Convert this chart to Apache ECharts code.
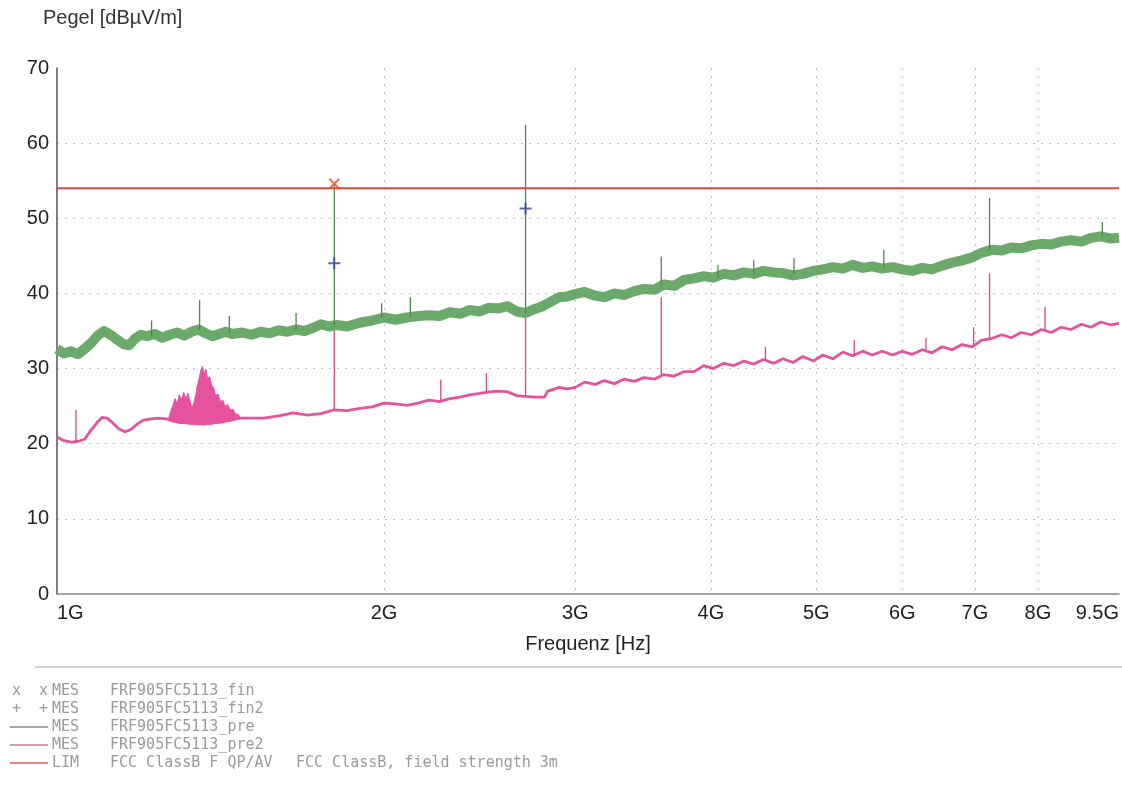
<!DOCTYPE html>
<html>
<head>
<meta charset="utf-8">
<script src="https://cdn.jsdelivr.net/npm/echarts@6/dist/echarts.min.js"></script>
<style>
  html, body { margin: 0; padding: 0; background: #fff; }
  #chart { width: 1122px; height: 796px; }
</style>
</head>
<body>
<div id="chart"></div>
<script>
// Frequencies in GHz, levels in dBµV/m

// Pre-scan, peak (green trace)
const preFreq = [1.000,1.015,1.030,1.045,1.060,1.075,1.090,1.105,1.120,1.135,1.150,1.165,1.180,1.195,1.210,1.230,1.250,1.270,1.290,1.310,1.330,1.350,1.370,1.390,1.410,1.430,1.450,1.480,1.510,1.540,1.570,1.600,1.630,1.660,1.690,1.720,1.750,1.780,1.810,1.850,1.900,1.950,2.000,2.050,2.100,2.150,2.200,2.250,2.300,2.350,2.400,2.450,2.500,2.550,2.600,2.650,2.700,2.750,2.800,2.850,2.900,2.950,3.000,3.060,3.130,3.190,3.260,3.330,3.400,3.470,3.550,3.620,3.700,3.780,3.860,3.940,4.020,4.110,4.200,4.290,4.380,4.470,4.570,4.660,4.760,4.860,4.970,5.070,5.180,5.290,5.400,5.520,5.630,5.750,5.880,6.000,6.130,6.260,6.390,6.530,6.670,6.810,6.960,7.100,7.250,7.410,7.560,7.720,7.890,8.060,8.230,8.400,8.580,8.770,8.950,9.140,9.340,9.500];
const preLevel = [32.6,32.0,32.3,31.9,32.6,33.4,34.4,35.0,34.5,33.9,33.3,33.1,34.0,34.5,34.3,34.6,34.1,34.5,34.8,34.4,34.9,35.2,34.7,34.3,34.6,34.9,34.6,34.8,34.5,34.9,34.7,35.1,34.9,35.2,35.0,35.4,35.9,35.6,35.8,35.6,36.1,36.4,36.8,36.5,36.8,37.0,37.1,37.0,37.5,37.3,37.8,37.6,38.1,38.0,38.3,37.6,37.4,37.9,38.3,38.9,39.5,39.6,39.9,40.2,39.7,39.5,40.0,39.8,40.3,40.6,40.5,41.2,41.0,41.8,42.0,42.3,42.1,42.6,42.4,42.8,42.6,43.0,42.8,42.7,42.4,42.6,43.0,43.2,43.5,43.3,43.8,43.4,43.6,43.3,43.5,43.2,43.0,43.4,43.2,43.7,44.1,44.4,44.8,45.4,45.8,45.7,46.1,46.0,46.4,46.6,46.5,46.9,47.1,46.9,47.4,47.6,47.3,47.4];

// Single-frequency peaks standing out of the green trace
const preSpikeFreq = [1.222,1.353,1.441,1.660,1.800,1.990,2.115,2.700,3.600,4.060,4.380,4.770,5.770,7.220,9.170];
const preSpikeBase = [34.3,35.2,34.7,35.2,35.8,36.8,36.8,37.4,41.2,42.1,42.6,42.6,43.3,45.7,47.5];
const preSpikeTop  = [36.4,39.1,37.0,37.4,54.5,38.7,39.5,62.4,44.9,43.8,44.4,44.7,45.8,52.7,49.5];

// Pre-scan, average (magenta trace)
const pre2Freq = [1.000,1.015,1.030,1.045,1.060,1.075,1.090,1.100,1.112,1.125,1.140,1.155,1.170,1.185,1.200,1.220,1.240,1.260,1.280,1.300,1.340,1.380,1.420,1.472,1.500,1.550,1.600,1.650,1.700,1.750,1.800,1.850,1.900,1.950,2.000,2.050,2.100,2.150,2.200,2.250,2.300,2.350,2.400,2.450,2.500,2.550,2.600,2.650,2.700,2.750,2.810,2.830,2.900,2.950,3.000,3.060,3.130,3.190,3.260,3.330,3.400,3.470,3.550,3.620,3.700,3.780,3.860,3.940,4.020,4.110,4.200,4.290,4.380,4.470,4.570,4.660,4.760,4.860,4.970,5.070,5.180,5.290,5.400,5.520,5.630,5.750,5.880,6.000,6.130,6.260,6.390,6.530,6.670,6.810,6.960,7.100,7.250,7.410,7.560,7.720,7.890,8.060,8.230,8.400,8.580,8.770,8.950,9.140,9.340,9.500];
const pre2Level = [20.9,20.4,20.2,20.3,20.6,21.8,22.9,23.5,23.4,22.8,22.0,21.6,21.9,22.6,23.1,23.3,23.4,23.3,23.0,22.8,22.7,22.7,22.9,23.4,23.4,23.4,23.7,24.1,23.8,24.0,24.5,24.4,24.7,24.9,25.4,25.3,25.1,25.4,25.8,25.6,26.0,26.2,26.5,26.7,26.9,27.0,26.9,26.4,26.3,26.2,26.2,27.0,27.5,27.3,27.5,28.2,27.9,28.4,28.0,28.6,28.3,28.8,28.6,29.2,29.0,29.6,29.6,30.4,30.0,30.7,30.4,31.0,30.6,31.2,30.7,31.3,30.8,31.6,31.0,31.8,31.3,32.2,31.7,32.3,31.8,32.3,31.8,32.3,31.9,32.5,32.1,32.9,32.5,33.2,32.9,33.8,34.0,34.5,34.1,34.8,34.5,35.2,34.8,35.5,35.2,35.9,35.5,36.2,35.8,36.0];

// Broadband emission around 1.3–1.45 GHz on the magenta trace (lower / upper envelope)
const bumpFreq = [1.268,1.276,1.284,1.290,1.296,1.302,1.308,1.314,1.320,1.326,1.331,1.336,1.341,1.346,1.351,1.356,1.361,1.366,1.371,1.376,1.382,1.388,1.394,1.400,1.407,1.414,1.421,1.428,1.436,1.444,1.452,1.460,1.468,1.476];
const bumpLow  = [23.3,23.0,22.9,22.8,22.8,22.7,22.7,22.7,22.7,22.6,22.6,22.6,22.6,22.5,22.5,22.5,22.5,22.5,22.5,22.6,22.6,22.6,22.7,22.7,22.8,22.8,22.9,22.9,23.0,23.0,23.1,23.2,23.3,23.4];
const bumpHigh = [23.6,24.8,26.0,25.4,26.5,25.9,26.8,26.1,26.7,25.6,24.8,25.4,26.3,27.6,28.6,29.7,30.3,29.4,29.9,28.7,28.9,27.8,27.4,26.4,26.6,25.6,25.8,25.0,25.2,24.5,24.6,24.0,23.9,23.5];

const pre2SpikeFreq = [1.041,1.800,2.256,2.485,2.700,3.600,4.490,5.420,6.310,6.980,7.220,8.120];
const pre2SpikeBase = [20.2,24.5,25.6,26.9,26.3,29.2,31.2,31.7,32.4,32.9,34.0,35.1];
const pre2SpikeTop  = [24.5,35.8,28.5,29.4,37.4,39.5,32.9,33.8,34.1,35.5,42.7,38.2];

// Final measurements
const finFreq = [1.80];
const finLevel = [54.6];
const fin2Freq = [1.80, 2.70];
const fin2Level = [44.0, 51.3];

// FCC Class B limit
const limitFreq = [1.0, 9.5];
const limitLevel = [54, 54];

// Axis ticks
const freqTicks = [1, 2, 3, 4, 5, 6, 7, 8, 9.5];

// Legend block
const legendKeys  = ['x  x', '+  +', '', '', ''];
const legendKinds = ['MES', 'MES', 'MES', 'MES', 'LIM'];
const legendNames = ['FRF905FC5113_fin', 'FRF905FC5113_fin2', 'FRF905FC5113_pre', 'FRF905FC5113_pre2', 'FCC ClassB F QP/AV'];
const legendNotes = ['', '', '', '', 'FCC ClassB, field strength 3m'];
const legendLineColors = [null, null, '#8a8a8a', '#c67aa8', '#e05a5a'];

const zip = (xs, ys) => xs.map((x, i) => [x, ys[i]]);
function spikes(freq, base, top) {
  const out = [];
  freq.forEach((f, i) => { out.push([f, base[i]], [f, top[i]], [f, '-']); });
  return out;
}

const GREEN = '#6aa96a';
const MAGENTA = '#e6529e';
const RED = '#e04848';
const SANS = '"Liberation Sans", Arial, sans-serif';

const legendGraphics = [{
  type: 'line', shape: { x1: 35, y1: 667, x2: 1122, y2: 667 },
  style: { stroke: '#c4c4c4', lineWidth: 1.5 }
}];
const rowY = [691, 709, 727, 745, 763];
const monoFont = '15px "DejaVu Sans Mono", monospace';
legendNames.forEach((name, i) => {
  const y = rowY[i];
  if (legendLineColors[i]) {
    legendGraphics.push({
      type: 'line', shape: { x1: 10, y1: y, x2: 48, y2: y },
      style: { stroke: legendLineColors[i], lineWidth: 1.5 }
    });
  }
  if (legendKeys[i]) {
    legendGraphics.push({ type: 'text', x: 12, y: y, style: { text: legendKeys[i], font: monoFont, fill: '#9a9a9a', verticalAlign: 'middle' } });
  }
  legendGraphics.push({ type: 'text', x: 52, y: y, style: { text: legendKinds[i], font: monoFont, fill: '#9a9a9a', verticalAlign: 'middle' } });
  legendGraphics.push({ type: 'text', x: 110, y: y, style: { text: name, font: monoFont, fill: '#9a9a9a', verticalAlign: 'middle' } });
  if (legendNotes[i]) {
    legendGraphics.push({ type: 'text', x: 296, y: y, style: { text: legendNotes[i], font: monoFont, fill: '#9a9a9a', verticalAlign: 'middle' } });
  }
});

const chart = echarts.init(document.getElementById('chart'), null, { renderer: 'canvas' });
chart.setOption({
  animation: false,
  backgroundColor: '#ffffff',
  textStyle: { fontFamily: SANS },
  grid: { left: 57, right: 0, top: 68, bottom: 202 },
  graphic: [
    { type: 'text', x: 43, y: 18, style: { text: 'Pegel [dBµV/m]', font: '20px ' + SANS, fill: '#333', verticalAlign: 'middle' } }
  ].concat(legendGraphics),
  xAxis: {
    type: 'log',
    logBase: 10,
    min: 1,
    max: 9.5,
    name: 'Frequenz [Hz]',
    nameLocation: 'middle',
    nameGap: 40,
    nameTextStyle: { fontSize: 20, color: '#222' },
    axisLine: { lineStyle: { color: '#8c8c8c', width: 1.5 } },
    axisTick: { show: false, customValues: freqTicks },
    axisLabel: {
      customValues: freqTicks,
      formatter: v => v + 'G',
      fontSize: 20,
      color: '#222',
      margin: 9,
      alignMinLabel: 'left',
      alignMaxLabel: 'right'
    },
    splitLine: {
      show: true,
      showMinLine: false,
      showMaxLine: false,
      lineStyle: { color: '#c2c2c2', type: [2, 6], width: 1 }
    }
  },
  yAxis: {
    type: 'value',
    min: 0,
    max: 70,
    interval: 10,
    axisLine: { show: true, lineStyle: { color: '#555', width: 1.5 } },
    axisTick: { show: false },
    axisLabel: { fontSize: 20, color: '#222', margin: 8 },
    splitLine: {
      show: true,
      showMaxLine: false,
      lineStyle: { color: '#c2c2c2', type: [2, 6], width: 1 }
    }
  },
  series: [
    {
      name: 'FRF905FC5113_pre2', type: 'line', data: zip(pre2Freq, pre2Level),
      showSymbol: false, lineStyle: { color: MAGENTA, width: 2.8 }, z: 2
    },
    {
      name: 'pre2 broadband', type: 'custom',
      data: bumpFreq.map((f, i) => [f, bumpLow[i], bumpHigh[i]]),
      encode: { x: 0, y: [1, 2] },
      renderItem: (params, api) => {
        const i = params.dataIndexInside;
        if (i >= params.dataInsideLength - 1) return;
        const pts = [
          api.coord([api.value(0, i), api.value(1, i)]),
          api.coord([api.value(0, i + 1), api.value(1, i + 1)]),
          api.coord([api.value(0, i + 1), api.value(2, i + 1)]),
          api.coord([api.value(0, i), api.value(2, i)])
        ];
        return { type: 'polygon', shape: { points: pts }, style: { fill: MAGENTA, stroke: MAGENTA, lineWidth: 0.8 } };
      },
      z: 2
    },
    {
      name: 'pre2 peaks', type: 'line', data: spikes(pre2SpikeFreq, pre2SpikeBase, pre2SpikeTop),
      showSymbol: false, connectNulls: false, lineStyle: { color: '#d0468e', width: 1.3 }, z: 2
    },
    {
      name: 'FRF905FC5113_pre', type: 'line', data: zip(preFreq, preLevel),
      showSymbol: false, lineStyle: { color: GREEN, width: 10, join: 'round' }, z: 3
    },
    {
      name: 'pre peaks', type: 'line', data: spikes(preSpikeFreq, preSpikeBase, preSpikeTop),
      showSymbol: false, connectNulls: false, lineStyle: { color: '#4d874d', width: 1.3 }, z: 4
    },
    {
      name: 'FCC ClassB F QP/AV', type: 'line', data: zip(limitFreq, limitLevel),
      showSymbol: false, lineStyle: { color: RED, width: 2 }, z: 5
    },
    {
      name: 'FRF905FC5113_fin', type: 'scatter', data: zip(finFreq, finLevel),
      symbol: 'path://M0,0L10,10M10,0L0,10', symbolSize: 10,
      itemStyle: { color: 'transparent', borderColor: '#e0502c', borderWidth: 2 }, z: 6
    },
    {
      name: 'FRF905FC5113_fin2', type: 'scatter', data: zip(fin2Freq, fin2Level),
      symbol: 'path://M5,0L5,10M0,5L10,5', symbolSize: 12,
      itemStyle: { color: 'transparent', borderColor: '#34449a', borderWidth: 2 }, z: 6
    }
  ]
});
</script>
</body>
</html>
